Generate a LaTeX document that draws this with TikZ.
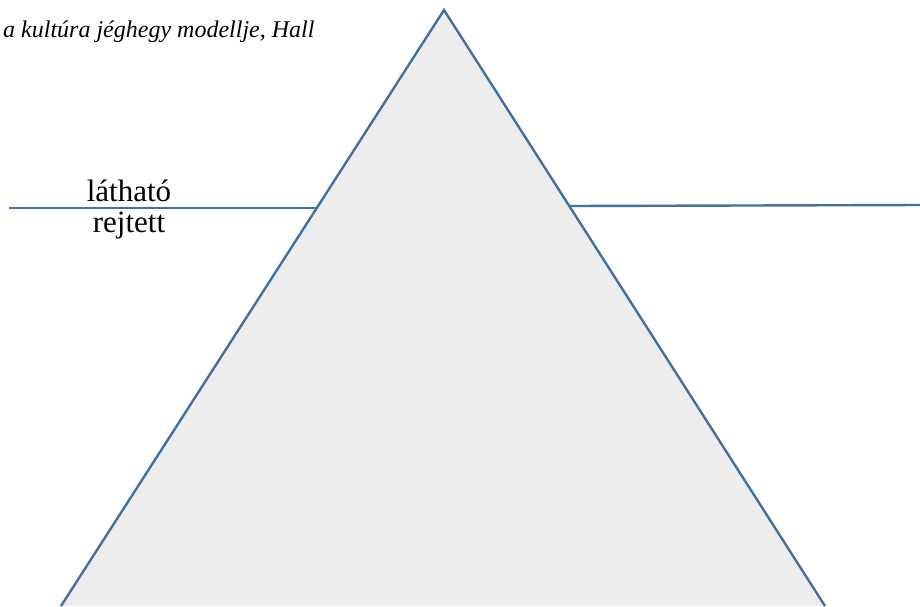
\documentclass[tikz,border=0pt]{standalone}
\usepackage{fontspec}
\setmainfont{Liberation Serif}
\definecolor{edgeblue}{HTML}{41719C}
\definecolor{icegray}{HTML}{EDEDED}
\tikzset{
  edge/.style={draw=edgeblue, line width=2.4pt, line join=miter},
  lbl/.style={inner sep=0pt, font=\fontsize{31}{31}\selectfont, anchor=base},
  ttl/.style={inner sep=0pt, font=\fontsize{24}{24}\selectfont\itshape, anchor=base west}
}
\begin{document}
\begin{tikzpicture}[x=1pt,y=-1pt]
\useasboundingbox (0,0) rectangle (920,606);
\begin{scope}
\clip (0,0) rectangle (920,606);
\coordinate (apex) at (444,10);
\coordinate (bl) at (61,606);
\coordinate (br) at (825,606);
\fill[icegray] (apex) -- (bl) -- (br) -- cycle;
\draw[edge] (bl) -- (apex) -- (br);
\end{scope}
\coordinate (l1) at (9,208);
\coordinate (l2) at (317.5,208);
\coordinate (r1) at (569,206);
\coordinate (r2) at (920,205);
\draw[edge] (l1) -- (l2);
\draw[edge] (r1) -- (r2);
\node[ttl] (title) at (3,37) {a kultúra jéghegy modellje, Hall};
\node[lbl] (vis) at (129,201) {látható};
\node[lbl] (hid) at (129,232) {rejtett};
\end{tikzpicture}
\end{document}
